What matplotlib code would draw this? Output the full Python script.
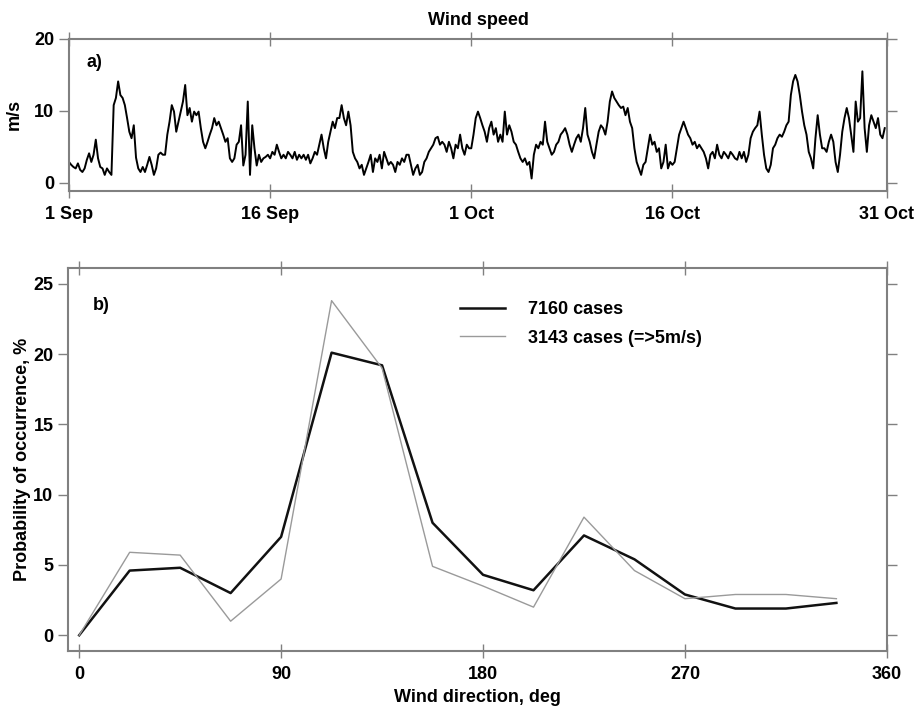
import numpy as np
import matplotlib
matplotlib.use("Agg")
import matplotlib.pyplot as plt

plt.rcParams['font.family'] = ['Liberation Sans', 'DejaVu Sans']
plt.rcParams['font.weight'] = 'bold'
plt.rcParams['axes.labelweight'] = 'bold'
plt.rcParams['font.size'] = 13

# ---- panel a: wind speed, 4-hourly values (m/s) ----
speed = [
    2.9, 2.5, 2.2, 2.0, 2.7, 1.8,
    1.5, 2.0, 3.2, 4.1, 2.9, 3.9,
    6.0, 3.4, 2.2, 2.0, 1.1, 2.0,
    1.5, 1.1, 10.8, 11.8, 14.1, 12.2,
    11.8, 10.8, 9.0, 7.1, 6.2, 8.0,
    3.5, 2.0, 1.5, 2.2, 1.5, 2.5,
    3.6, 2.5, 1.1, 2.0, 3.9, 4.2, 3.9,
    3.9, 6.7, 8.5, 10.8, 9.9, 7.1,
    8.5, 9.9, 11.3, 13.6, 9.4, 10.4,
    8.5, 9.9, 9.4, 9.9, 7.6, 5.7,
    4.8, 5.7, 6.7, 7.6, 9.0, 8.0,
    8.5, 7.6, 6.7, 5.7, 6.2, 3.4,
    2.9, 3.4, 5.3, 5.7, 8.0, 2.4,
    3.9, 11.3, 1.1, 8.0, 4.8, 2.4,
    3.9, 2.9, 3.4, 3.6, 3.9, 3.4, 4.3,
    3.9, 5.3, 4.3, 3.4, 3.9, 3.4,
    4.3, 3.9, 3.4, 4.3, 3.2, 3.9,
    3.4, 3.9, 3.2, 3.9, 2.7, 3.4,
    4.3, 3.9, 5.3, 6.7, 4.8, 3.4,
    5.7, 7.1, 8.5, 7.6, 9.0,
    9.0, 10.8, 9.0, 8.0, 9.9,
    8.0, 4.3, 3.4, 2.9, 2.0, 2.5,
    1.1, 2.0, 2.9, 3.9, 1.5, 3.4,
    2.9, 3.9, 2.0, 4.3, 3.4, 2.5,
    2.9, 2.5, 1.5, 2.9, 2.5, 3.4,
    2.9, 3.9, 3.9, 2.5, 1.1, 2.0,
    2.5, 1.1, 1.5, 2.9, 3.4, 4.3,
    4.8, 5.3, 6.2, 6.4, 5.3, 5.7,
    5.3, 4.3, 5.7, 4.8, 3.4, 5.3,
    4.8, 6.7, 4.8, 3.9, 5.3, 4.8,
    4.8, 6.7, 9.0, 9.9, 9.0, 8.0,
    7.1, 5.7, 7.6, 8.5, 6.7, 7.6,
    5.7, 6.7, 5.7, 9.9, 6.7, 8.0,
    7.1, 5.7, 5.3, 4.3, 3.4, 2.9,
    3.4, 2.5, 2.9, 0.6, 3.9, 5.3,
    4.8, 5.7, 5.3, 8.5, 5.7, 4.8,
    3.9, 4.3, 5.3, 5.7, 6.7, 7.1,
    7.6, 6.7, 5.3, 4.3, 5.3, 6.2,
    6.7, 5.7, 7.6, 10.4, 6.7, 5.7,
    4.3, 3.4, 5.3, 7.1, 8.0, 7.6,
    6.7, 8.5, 11.3, 12.7, 11.8, 11.3,
    10.8, 10.4, 10.6, 9.4, 10.4, 8.5,
    7.6, 4.8, 2.9, 2.0, 1.1, 2.5,
    2.9, 4.8, 6.7, 5.3, 5.7, 4.3,
    4.8, 2.0, 2.9, 5.3, 2.0, 2.9,
    2.5, 2.9, 4.8, 6.7, 7.6, 8.5,
    7.6, 6.7, 6.2, 5.3, 5.7, 4.8,
    5.3, 4.8, 4.3, 3.4, 2.0, 3.9,
    4.3, 3.4, 5.3, 3.9, 3.4, 4.3,
    3.9, 3.4, 4.3, 3.9, 3.4, 3.2,
    4.3, 3.4, 4.3, 2.9, 3.9, 6.2,
    7.1, 7.6, 8.0, 9.9, 6.7, 3.9,
    2.0, 1.5, 2.5, 4.8, 5.3, 6.2,
    6.7, 6.4, 7.1, 8.0, 8.5, 12.2,
    14.1, 15.0, 14.1, 12.2, 9.9, 8.0,
    6.7, 4.3, 3.4, 2.0, 6.2, 9.4,
    6.7, 4.8, 4.8, 4.3, 5.7, 6.7,
    5.7, 2.9, 1.5, 3.9, 7.1, 9.0,
    10.4, 9.0, 6.7, 4.3, 11.3, 8.5,
    9.0, 15.5, 7.6, 4.3, 8.0, 9.4,
    8.5, 7.6, 9.0, 6.7, 6.2, 7.6,
]
hours_step = 4
days = np.arange(len(speed)) * hours_step / 24.0

date_ticks = [0, 15, 30, 45, 61]
date_labels = ["1 Sep", "16 Sep", "1 Oct", "16 Oct", "31 Oct"]

# ---- panel b: direction distribution (%) ----
direction = [0, 22.5, 45, 67.5, 90, 112.5, 135, 157.5, 180,
             202.5, 225, 247.5, 270, 292.5, 315, 337.5]
prob_all = [0, 4.6, 4.8, 3.0, 7.0, 20.1, 19.2, 8.0, 4.3,
            3.2, 7.1, 5.4, 2.9, 1.9, 1.9, 2.3]
prob_strong = [0, 5.9, 5.7, 1.0, 4.0, 23.8, 19.0, 4.9, 3.5,
               2.0, 8.4, 4.6, 2.6, 2.9, 2.9, 2.6]

spine_col = "#808080"

fig = plt.figure(figsize=(9.16, 7.10), dpi=100)
ax1 = fig.add_axes([0.0753, 0.7314, 0.893, 0.2137])
ax2 = fig.add_axes([0.0742, 0.0835, 0.894, 0.5386])


def style(ax):
    for s in ax.spines.values():
        s.set_color(spine_col)
        s.set_linewidth(1.5)
    ax.tick_params(axis='x', which='both', direction='inout', length=10,
                   width=1.0, color=spine_col, top=True, bottom=True, pad=6)
    ax.tick_params(axis='y', which='both', direction='out', length=7,
                   width=1.0, color=spine_col, left=True, right=True, pad=3.5)


ax1.plot(days, speed, color='black', lw=1.4)
ax1.set_xlim(0, 61)
ax1.set_ylim(-1.1, 20)
ax1.set_xticks(date_ticks)
ax1.set_xticklabels(date_labels)
ax1.set_yticks([0, 10, 20])
ax1.set_ylabel("m/s", labelpad=8)
ax1.set_title("Wind speed", fontsize=13, fontweight='bold', pad=10)
ax1.text(0.022, 0.848, "a)", transform=ax1.transAxes, fontsize=13,
         fontweight='bold', va='center')
style(ax1)

ax2.plot(direction, prob_all, color='#111111', lw=1.8, label="7160 cases")
ax2.plot(direction, prob_strong, color='#9a9a9a', lw=1.0,
         label="3143 cases (=>5m/s)")
ax2.set_xlim(-5, 360)
ax2.set_ylim(-1.1, 26.1)
ax2.set_xticks([0, 90, 180, 270, 360])
ax2.set_yticks([0, 5, 10, 15, 20, 25])
ax2.set_xlabel("Wind direction, deg", labelpad=4)
ax2.set_ylabel("Probability of occurrence, %", labelpad=1.5)
ax2.text(0.0305, 0.904, "b)", transform=ax2.transAxes, fontsize=13,
         fontweight='bold', va='center')
ax2.legend(loc='upper left', bbox_to_anchor=(0.479, 0.9145), frameon=False,
           borderpad=0, borderaxespad=0, handlelength=2.5,
           handletextpad=1.28, labelspacing=0.65)
style(ax2)

fig.savefig("out.png", dpi=100)
